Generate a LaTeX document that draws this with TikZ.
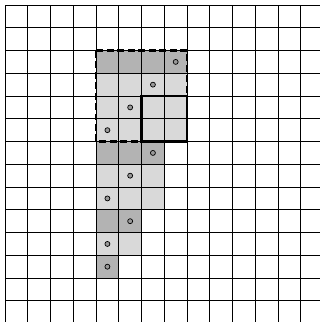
\documentclass[tikz,border=0pt]{standalone}
\usepackage{tikz}
\usepackage{xcolor}
\definecolor{darkcell}{HTML}{B3B3B3}
\definecolor{lightcell}{HTML}{D9D9D9}
\definecolor{dotfill}{HTML}{999999}
\tikzset{
  gridline/.style={draw=black, line width=0.8pt},
  window/.style={draw=black, line width=2.6pt, dash pattern=on 7pt off 3.5pt},
  target/.style={draw=black, line width=2.6pt},
  dot/.style={circle, draw=black, fill=dotfill, line width=0.7pt,
              minimum size=5pt, inner sep=0pt}
}
\begin{document}
\begin{tikzpicture}[x=0.8cm,y=0.8cm]
  \useasboundingbox (-0.22,0.22) rectangle (13.85,-13.93);
  \fill[white] (-0.22,0.22) rectangle (13.85,-13.93);
  % shaded cells
  \foreach \r/\n in {2/4,6/3,9/2,11/1}
    {\fill[darkcell] (4,-\r) rectangle (4+\n,-\r-1);}
  \foreach \r/\n in {3/4,4/4,5/4,7/3,8/3,10/2}
    {\fill[lightcell] (4,-\r) rectangle (4+\n,-\r-1);}
  % grid
  \foreach \i in {0,...,13} {
    \draw[gridline] (\i,0) -- (\i,-13.93);
    \draw[gridline] (0,-\i) -- (13.85,-\i);
  }
  % windows
  \draw[window] (4,-2) rectangle (8,-6);
  \draw[target] (6,-4) rectangle (8,-6);
  % sample points
  \foreach \c/\r in {7/2,6/3,5/4,4/5,6/6,5/7,4/8,5/9,4/10,4/11}
    {\node[dot] (p\r) at (\c+0.5,-\r-0.5) {};}
\end{tikzpicture}
\end{document}
